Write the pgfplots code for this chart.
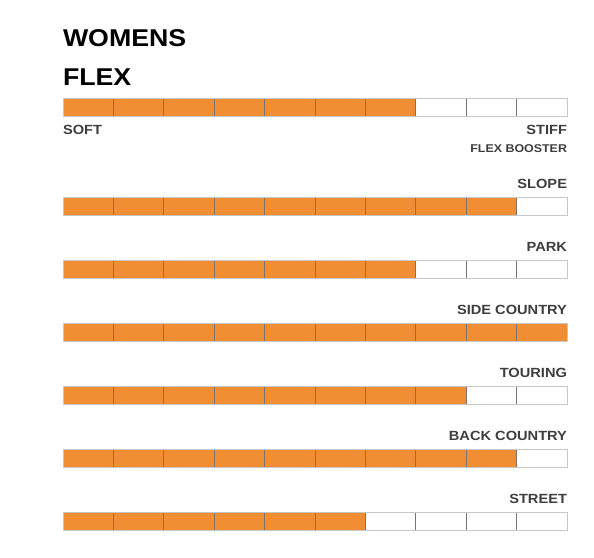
\documentclass[border=0pt]{standalone}
\usepackage{pgfplots}
\usepackage{pgfplotstable}
\usepackage{fontspec}
\setmainfont{Liberation Sans}[FakeStretch=1.1]
\pgfplotsset{compat=1.18}
\definecolor{barorange}{HTML}{F18D33}
\definecolor{divider}{HTML}{7A7370}
\definecolor{outline}{HTML}{C9C6C6}
\definecolor{labelgray}{HTML}{3D3D3F}
\tikzset{lab/.style={font=\fontsize{13.3bp}{16bp}\selectfont\bfseries, text=labelgray, inner sep=0pt, outer sep=0pt},
  ttl/.style={font=\fontsize{24.3bp}{30bp}\selectfont\bfseries, inner sep=0pt, outer sep=0pt}}
\pgfplotstableread{
y full v
-108 10 7
-207 10 9
-270 10 7
-333 10 10
-396 10 8
-459 10 9
-522 10 6
}\rows
\begin{document}
\begin{tikzpicture}
\begin{axis}[scale only axis, width=594bp, height=558bp,
  xmin=-1.25, xmax=10.5357, ymin=-558, ymax=0, hide axis, clip=false]
\addplot[draw=none, mark=none, forget plot] coordinates {(-1.25,-558) (10.5357,0)};
\addplot[xbar, bar width=18, bar shift=0, fill=white, draw=none] table[x=full,y=y]{\rows};
\addplot[xbar, bar width=18, bar shift=0, fill=barorange, draw=none] table[x=v,y=y]{\rows};
\draw[divider, line width=0.8bp] foreach \i in {1,...,9}{(axis cs:\i,-99)--(axis cs:\i,-117)};
\draw[divider, line width=0.8bp] foreach \i in {1,...,9}{(axis cs:\i,-198)--(axis cs:\i,-216)};
\draw[divider, line width=0.8bp] foreach \i in {1,...,9}{(axis cs:\i,-261)--(axis cs:\i,-279)};
\draw[divider, line width=0.8bp] foreach \i in {1,...,9}{(axis cs:\i,-324)--(axis cs:\i,-342)};
\draw[divider, line width=0.8bp] foreach \i in {1,...,9}{(axis cs:\i,-387)--(axis cs:\i,-405)};
\draw[divider, line width=0.8bp] foreach \i in {1,...,9}{(axis cs:\i,-450)--(axis cs:\i,-468)};
\draw[divider, line width=0.8bp] foreach \i in {1,...,9}{(axis cs:\i,-513)--(axis cs:\i,-531)};
\addplot[xbar, bar width=18, bar shift=0, fill=none, draw=outline, line width=1bp] table[x=full,y=y]{\rows};
\node[ttl, anchor=base west] at (axis cs:0,-47) {WOMENS};
\node[ttl, anchor=base west] at (axis cs:0,-86) {FLEX};
\node[lab, anchor=base west] at (axis cs:0,-135) {SOFT};
\node[lab, anchor=base east] at (axis cs:10,-135) {STIFF};
\node[lab, anchor=base east, font=\fontsize{11.3bp}{13bp}\selectfont\bfseries] at (axis cs:10,-153) {FLEX BOOSTER};
\node[lab, anchor=base east] at (axis cs:10,-189) {SLOPE};
\node[lab, anchor=base east] at (axis cs:10,-252) {PARK};
\node[lab, anchor=base east] at (axis cs:10,-315) {SIDE COUNTRY};
\node[lab, anchor=base east] at (axis cs:10,-378) {TOURING};
\node[lab, anchor=base east] at (axis cs:10,-441) {BACK COUNTRY};
\node[lab, anchor=base east] at (axis cs:10,-504) {STREET};
\end{axis}
\end{tikzpicture}
\end{document}
